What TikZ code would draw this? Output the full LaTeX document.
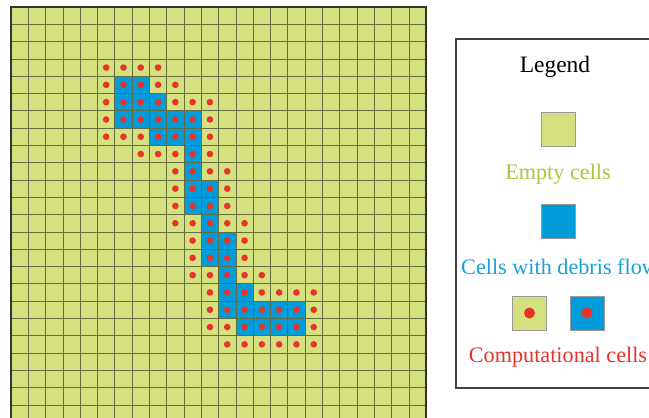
\documentclass[tikz,border=0pt]{standalone}
\usepackage{fontspec}
\setmainfont{Liberation Serif}
\definecolor{emptygreen}{RGB}{212,225,126}
\definecolor{flowblue}{RGB}{0,157,218}
\definecolor{dotred}{RGB}{232,50,42}
\definecolor{gridline}{RGB}{100,108,66}
\definecolor{labelgreen}{RGB}{165,200,60}
\definecolor{labelblue}{RGB}{25,160,215}
\begin{document}
\begin{tikzpicture}[x=1pt, y=-1pt,
    flowcell/.style={fill=flowblue},
    compdot/.style={circle, fill=dotred, inner sep=0pt, minimum size=6.6pt},
    legsq/.style={rectangle, draw=black!40, minimum size=34pt, inner sep=0pt},
    legtext/.style={inner sep=0pt, font=\fontsize{22.2}{26}\selectfont},
]
\clip (0,0) rectangle (649,418);
\fill[white] (0,0) rectangle (649,418);

% cellular grid, 24 x 24 cells
\begin{scope}[shift={(11,7)}, x=17.3pt, y=-17.3pt]
  \fill[emptygreen] (0,0) rectangle (24,24);
  \foreach \r/\cols in {4/{6,7}, 5/{6,7,8}, 6/{6,...,10}, 7/{8,9,10}, 8/{10}, 9/{10},
                        10/{10,11}, 11/{10,11}, 12/{11}, 13/{11,12}, 14/{11,12}, 15/{12},
                        16/{12,13}, 17/{12,...,16}, 18/{13,...,16}}
    \foreach \c in \cols
      \fill[flowcell] (\c,\r) rectangle ++(1,1);
  \foreach \i in {1,...,23} {
    \draw[gridline, line width=0.8pt] (\i,0) -- (\i,24);
    \draw[gridline, line width=0.8pt] (0,\i) -- (24,\i);
  }
  \draw[black!80, line width=1.5pt] (0,0) rectangle (24,24);
  % computational cells
  \foreach \r/\a/\b in {3/5/8, 4/5/9, 5/5/11, 6/5/11, 7/5/11, 8/7/11, 9/9/12, 10/9/12,
                        11/9/12, 12/9/13, 13/10/13, 14/10/13, 15/10/14, 16/11/17,
                        17/11/17, 18/11/17, 19/12/17}
    \foreach \c in {\a,...,\b}
      \node[compdot] at (\c+0.5,\r+0.5) {};
\end{scope}

% legend
\draw[black!75, line width=1.3pt] (456,39) rectangle (720,388);
\node[legtext, font=\fontsize{23.5}{28}\selectfont] (legtitle) at (555,67) {Legend};
\node[legsq, fill=emptygreen] (emptysq) at (558.5,129.5) {};
\node[legtext, text=labelgreen] (emptylbl) at (558,174) {Empty cells};
\node[legsq, fill=flowblue] (flowsq) at (558.5,221) {};
\node[legtext, text=labelblue, anchor=west] (flowlbl) at (461,267) {Cells with debris flow};
\node[legsq, fill=emptygreen] (compsqa) at (529.5,313) {};
\node[legsq, fill=flowblue] (compsqb) at (587,313) {};
\node[compdot, minimum size=11pt] (dota) at (compsqa) {};
\node[compdot, minimum size=11pt] (dotb) at (compsqb) {};
\node[legtext, text=dotred] (complbl) at (558,357) {Computational cells};
\end{tikzpicture}
\end{document}
